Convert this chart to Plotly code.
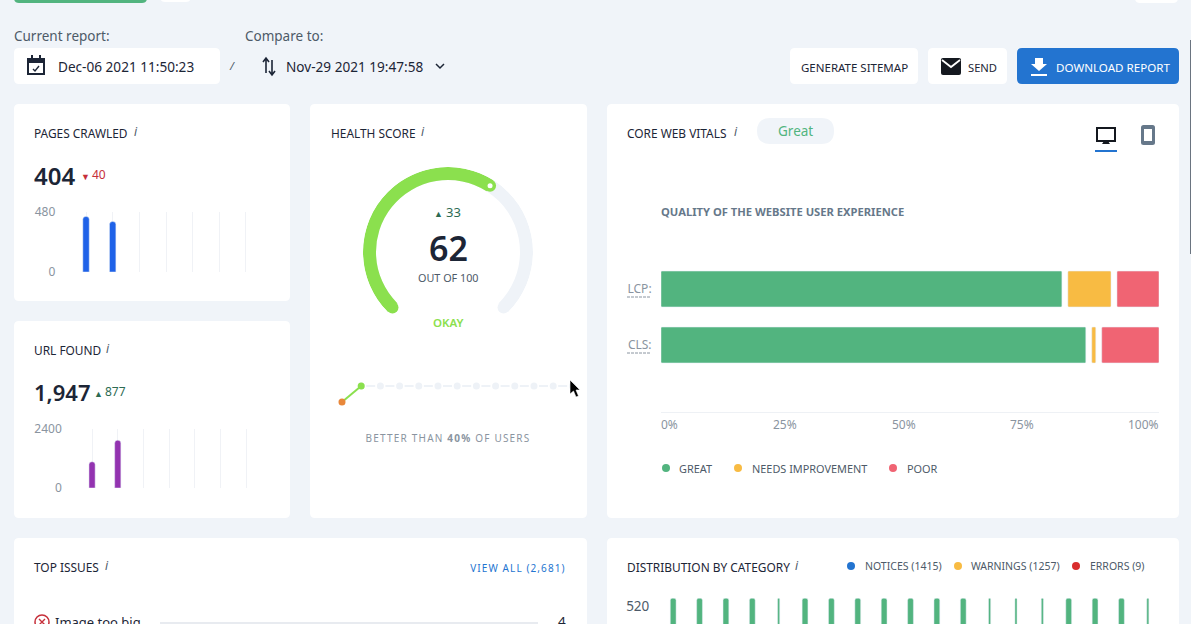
import plotly.graph_objects as go

FONT = "Noto Sans"
BG = "#f0f4f9"
INK = "#1c2536"
MUTED = "#4d5a68"
TICK = "#8a94a0"
GRID = "#f0f2f6"
GREEN = "#52b47f"
AMBER = "#f8bb43"
RED = "#f06473"
LIME = "#8be04e"
BLUE = "#2374d0"

W, H = 1191, 624

# values
report_slots = [1, 2, 3, 4, 5, 6, 7]
pages_crawled = [444, 404]
pages_ticks = [0, 480]
url_found = [1070, 1947]
url_ticks = [0, 2400]

health_score = 62
health_history = [29, 62]
health_future = [62, 62, 62, 62, 62, 62, 62, 62, 62, 62, 62, 62]

cwv_metrics = ["LCP", "CLS"]
cwv_labels = ["LCP:", "CLS:"]
cwv_great = [81.7, 86.5]
cwv_needs = [9.86, 2.0]
cwv_poor = [8.44, 11.5]
cwv_tick_text = ["0%", "25%", "50%", "75%", "100%"]

dist_slots = list(range(1, 20))
dist_values = [546] * 19
dist_thin = [5, 13, 14, 15, 19]
dist_ticks = [520]


def rr(x0, y0, x1, y1, r=5):
    return (f"M{x0+r},{y0} L{x1-r},{y0} Q{x1},{y0} {x1},{y0+r} L{x1},{y1-r} Q{x1},{y1} {x1-r},{y1} "
            f"L{x0+r},{y1} Q{x0},{y1} {x0},{y1-r} L{x0},{y0+r} Q{x0},{y0} {x0+r},{y0} Z")


def xdom(x0, x1):
    return [x0 / W, x1 / W]


def ydom(top, bottom):
    return [1 - bottom / H, 1 - top / H]


shapes = []


def box(x0, y0, x1, y1, color="white", r=5):
    shapes.append(dict(type="path", path=rr(x0, y0, x1, y1, r), fillcolor=color, line_width=0,
                       xref="x", yref="y", layer="below"))


def icon(path, fill="rgba(0,0,0,0)", color=INK, width=0):
    shapes.append(dict(type="path", path=path, fillcolor=fill, line=dict(color=color, width=width),
                       xref="x", yref="y", layer="above"))


def dot(cx, cy, r, color):
    shapes.append(dict(type="circle", x0=cx - r, x1=cx + r, y0=cy - r, y1=cy + r, fillcolor=color,
                       line_width=0, xref="x", yref="y", layer="above"))


annotations = []


def label(x, y, text, size=11, color=INK, anchor="left", weight=None):
    font = dict(family=FONT, size=size, color=color)
    if weight:
        font["weight"] = weight
    annotations.append(dict(x=x, y=y, xref="x", yref="y", text=text, showarrow=False, xanchor=anchor,
                            yanchor="middle", font=font, borderpad=0, borderwidth=0))


# cards and buttons
box(14, -6, 147, 3, GREEN)
box(160, -6, 191, 2)
box(1135, -6, 1178, 3)
box(14, 104, 290, 301)
box(14, 321, 290, 518)
box(310, 104, 587, 518)
box(607, 104, 1179, 518)
box(14, 538, 587, 640)
box(607, 538, 1179, 640)
box(14, 48, 220, 84)
box(790, 48, 918, 84)
box(928, 48, 1007, 84)
box(1017, 48, 1179, 84, BLUE)
box(757, 118, 834, 144, BG, 13)
shapes.append(dict(type="rect", x0=1190, x1=1191, y0=40, y1=254, fillcolor="#6a7480", line_width=0,
                   xref="x", yref="y", layer="above"))

# header text
label(14, 36, "Current report:", 13.5, MUTED)
label(245, 36, "Compare to:", 13.5, MUTED)
label(58, 66, "Dec-06 2021 11:50:23", 13.6, INK)
label(286, 66, "Nov-29 2021 19:47:58", 13.6, INK)
label(232, 65, "<i>/</i>", 11, MUTED, "center")
label(854, 67, "GENERATE SITEMAP", 11.5, INK, "center")
label(982.5, 67, "SEND", 11.2, INK, "center")
label(1112.5, 67, "DOWNLOAD REPORT", 11.6, "white", "center")

# calendar, swap, chevron, envelope, download icons
icon(f"M28,59 L44,59 L44,74 L28,74 Z", color=INK, width=2)
icon("M27,58 L45,58 L45,63 L27,63 Z", fill=INK)
icon("M31,55 L33,55 L33,59 L31,59 Z M39,55 L41,55 L41,59 L39,59 Z", fill=INK)
icon("M33,69 L35,71 L39,66", color=INK, width=1.4)
icon("M266,73 L266,59 M263,62 L266,58 L269,62 M272,60 L272,74 M269,71 L272,75 L275,71", color=INK, width=1.6)
icon("M436,64 L440,68 L444,64", color=INK, width=1.5)
icon(rr(941, 58, 961, 75, 2), fill="#14181f")
icon("M942,60 L951,67 L960,60", color="white", width=1.8)
icon("M1035,58 L1043,58 L1043,64 L1047,64 L1039,71 L1031,64 L1035,64 Z", fill="white")
icon("M1031,75 L1047,75", color="white", width=2)
# monitor, phone
icon("M1097,128 L1115,128 L1115,141 L1097,141 Z", color="#14181f", width=2)
icon("M1102,144 L1110,144 L1108,141 L1104,141 Z", fill="#14181f")
icon("M1095,151 L1117,151", color=BLUE, width=2)
icon(rr(1141, 125, 1155, 145, 2.5), fill="#66788a")
icon("M1144,129 L1152,129 L1152,141 L1144,141 Z", fill="white")
# mouse pointer
icon("M570,380 L570,394 L573.5,391 L576,397 L578.5,396 L576,390 L580,390 Z", fill="black", color="white", width=0.6)

# card titles
for x, y, title, ix in [
    (34, 133, "PAGES CRAWLED", 136),
    (34, 350, "URL FOUND", 108),
    (331, 133, "HEALTH SCORE", 423),
    (627, 133, "CORE WEB VITALS", 736),
    (34, 567, "TOP ISSUES", 107),
    (627, 567, "DISTRIBUTION BY CATEGORY", 797),
]:
    label(x, y, title, 11.9, INK)
    label(ix, y - 2, "<i>i</i>", 12, MUTED, "center")

# headline numbers
label(34, 175, "404", 24, INK, weight=600)
label(81, 176, "▼", 9, "#c62f3a")
label(92, 174, "40", 12, "#c62f3a")
label(34, 392, "1,947", 22, INK, weight=600)
label(94, 393, "▲", 9, "#2d6b53")
label(105, 391, "877", 12, "#2d6b53")

# gauge text
label(438, 213, "▲", 9, "#2d6b53", "center")
label(453, 212, "33", 13, "#2d6b53", "center")
label(448, 248, "62", 34, INK, "center", weight=600)
label(448, 277, "OUT OF 100", 10.8, MUTED, "center")
label(448, 322, "OKAY", 11.5, LIME, "center", weight=600)
label(448, 438, "BETTER THAN <b>40%</b> OF USERS", 10, TICK, "center")

# core web vitals text
label(795, 131, "Great", 13.5, GREEN, "center")
label(661, 211.5, "<b>QUALITY OF THE WEBSITE USER EXPERIENCE</b>", 11.2, "#66788a")
label(661, 424, cwv_tick_text[0], 12, TICK)
label(785, 424, cwv_tick_text[1], 12, TICK, "center")
label(904, 424, cwv_tick_text[2], 12, TICK, "center")
label(1022, 424, cwv_tick_text[3], 12, TICK, "center")
label(1159, 424, cwv_tick_text[4], 12, TICK, "right")
dot(666, 468, 4, GREEN)
label(679, 468, "GREAT", 10.9, MUTED)
dot(738, 468, 4, AMBER)
label(752, 468, "NEEDS IMPROVEMENT", 10.9, MUTED)
dot(893, 468, 4, RED)
label(907, 468, "POOR", 10.9, MUTED)
for yy in (297, 353):
    icon(f"M627,{yy} L650,{yy}", color=TICK, width=1)
    shapes[-1]["line"]["dash"] = "3px,1px"

# distribution legend
dot(851, 566, 4, BLUE)
label(865, 566, "NOTICES (1415)", 10.5, MUTED)
dot(958, 566, 4, AMBER)
label(971, 566, "WARNINGS (1257)", 10.5, MUTED)
dot(1076, 566, 4, "#d92d2d")
label(1090, 566, "ERRORS (9)", 10.5, MUTED)

# top issues
label(518, 568, "VIEW ALL (2,681)", 10, BLUE, "center")
shapes.append(dict(type="circle", x0=35, x1=49, y0=615, y1=629, fillcolor="white",
                   line=dict(color="#c62f3a", width=1.5), xref="x", yref="y", layer="above"))
icon("M39,619 L45,625 M45,619 L39,625", color="#c62f3a", width=1.4)
label(55, 622, "Image too big", 13, INK)
label(562, 622, "4", 13.5, INK, "center")
icon("M160,623 L538,623", color="#e8ebf0", width=2)

fig = go.Figure()

# small bar charts
fig.add_trace(go.Bar(x=report_slots[:2], y=pages_crawled, width=0.24, marker=dict(color="#1f62e8", cornerradius=3),
                     xaxis="x2", yaxis="y2", hoverinfo="skip"))
fig.add_trace(go.Bar(x=report_slots[:2], y=url_found, width=0.24, marker=dict(color="#9333b0", cornerradius=3),
                     xaxis="x3", yaxis="y3", hoverinfo="skip"))

# health score history
fig.add_trace(go.Scatter(x=list(range(2, 14)), y=health_future, mode="lines+markers",
                         line=dict(color="#eef2f7", width=2, dash="0px,5px,9px,5.2px"),
                         marker=dict(color="#eef2f7", size=7), xaxis="x4", yaxis="y4", hoverinfo="skip"))
fig.add_trace(go.Scatter(x=[1, 2], y=health_history, mode="lines+markers", line=dict(color=LIME, width=2),
                         marker=dict(color=["#e8873a", LIME], size=7), xaxis="x4", yaxis="y4", hoverinfo="skip"))

# core web vitals bars, each one stops a little short of the next
GAP = 1.2
cum = [0, 0]
for i, (vals, color) in enumerate([(cwv_great, GREEN), (cwv_needs, AMBER), (cwv_poor, RED)]):
    widths = [v - GAP if i < 2 else v for v in vals]
    fig.add_trace(go.Bar(y=cwv_metrics, x=widths, base=cum, orientation="h", width=0.64,
                         marker=dict(color=color, cornerradius=1), xaxis="x5", yaxis="y5", hoverinfo="skip"))
    cum = [c + v for c, v in zip(cum, vals)]

# distribution
fig.add_trace(go.Bar(x=dist_slots, y=dist_values,
                     width=[0.08 if s in dist_thin else 0.22 for s in dist_slots],
                     marker=dict(color=GREEN, cornerradius=2), xaxis="x6", yaxis="y6", hoverinfo="skip"))

# gauge
START = 225
SWEEP = 270
score_span = health_score / 100 * SWEEP
R_IN, R_OUT = 72 / 85, 1.0
R_MID = (R_IN + R_OUT) / 2
fig.add_trace(go.Barpolar(r=[R_OUT - R_IN], base=[R_IN], theta=[START + SWEEP / 2], width=[SWEEP],
                          marker=dict(color="#eff3f8", line_width=0), subplot="polar", hoverinfo="skip"))
fig.add_trace(go.Barpolar(r=[R_OUT - R_IN], base=[R_IN], theta=[START + score_span / 2], width=[score_span],
                          marker=dict(color=LIME, line_width=0), subplot="polar", hoverinfo="skip"))
fig.add_trace(go.Scatterpolar(r=[R_MID], theta=[START + SWEEP], mode="markers", marker=dict(color="#eff3f8", size=12),
                              subplot="polar", hoverinfo="skip"))
fig.add_trace(go.Scatterpolar(r=[R_MID, R_MID], theta=[START, START + score_span], mode="markers",
                              marker=dict(color=LIME, size=12), subplot="polar", hoverinfo="skip"))
fig.add_trace(go.Scatterpolar(r=[R_MID], theta=[START + score_span], mode="markers",
                              marker=dict(color="white", size=5), subplot="polar", hoverinfo="skip"))

hidden = dict(visible=False)
tick_font = dict(family=FONT, size=12, color=TICK)

fig.update_layout(
    width=W, height=H, margin=dict(l=0, r=0, t=0, b=0, pad=0, autoexpand=False), autosize=False,
    paper_bgcolor=BG, plot_bgcolor="rgba(0,0,0,0)", showlegend=False, barmode="overlay",
    font=dict(family=FONT),
    shapes=shapes, annotations=annotations,
    xaxis=dict(range=[0, W], domain=[0, 1], **hidden),
    yaxis=dict(range=[H, 0], domain=[0, 1], **hidden),
    xaxis2=dict(domain=xdom(72.7, 259.3), range=[0.5, 7.5], anchor="y2", tickvals=report_slots, showticklabels=False,
                showgrid=True, gridcolor=GRID, gridwidth=1, zeroline=False, ticks=""),
    yaxis2=dict(domain=ydom(212, 272), range=[0, 480], anchor="x2", tickvals=pages_ticks, showgrid=False,
                zeroline=False, ticks="outside", ticklen=14, tickcolor="rgba(0,0,0,0)", tickfont=tick_font),
    xaxis3=dict(domain=xdom(79.2, 259.2), range=[0.5, 7.5], anchor="y3", tickvals=report_slots, showticklabels=False,
                showgrid=True, gridcolor=GRID, gridwidth=1, zeroline=False, ticks=""),
    yaxis3=dict(domain=ydom(429, 488), range=[0, 2400], anchor="x3", tickvals=url_ticks, showgrid=False,
                zeroline=False, ticks="outside", ticklen=14, tickcolor="rgba(0,0,0,0)", tickfont=tick_font),
    xaxis4=dict(domain=xdom(322.8, 591.6), range=[0, 14], anchor="y4", **hidden),
    yaxis4=dict(domain=ydom(376, 412), range=[8.4, 82.6], anchor="x4", **hidden),
    xaxis5=dict(domain=xdom(661, 1159), range=[0, 100], anchor="y5", showticklabels=False, showgrid=False,
                zeroline=False, showline=True, linecolor="#eef1f5", linewidth=1, ticks=""),
    yaxis5=dict(domain=ydom(261, 412), range=[2.196, -0.5], anchor="x5", type="category",
                categoryarray=cwv_metrics, tickmode="array", tickvals=cwv_metrics, ticktext=cwv_labels,
                showgrid=False, zeroline=False, ticks="outside", ticklen=6, tickcolor="rgba(0,0,0,0)",
                tickfont=dict(family=FONT, size=12, color=TICK)),
    xaxis6=dict(domain=xdom(660, 1161), range=[0.5, 19.5], anchor="y6", showticklabels=False, showgrid=False,
                zeroline=False, ticks=""),
    yaxis6=dict(domain=ydom(598, 624), range=[460, 547], anchor="x6", tickvals=dist_ticks, showgrid=False,
                zeroline=False, ticks="outside", ticklen=7, tickcolor="rgba(0,0,0,0)",
                tickfont=dict(family=FONT, size=13.5, color=MUTED)),
    polar=dict(domain=dict(x=xdom(363, 533), y=ydom(167, 337)), bgcolor="rgba(0,0,0,0)", barmode="overlay",
               radialaxis=dict(range=[0, 1], visible=False),
               angularaxis=dict(visible=False, rotation=90, direction="clockwise")),
)

# plotly has no letter spacing option, two captions in the reference are spaced out
post = """
document.body.style.margin='0';document.body.style.overflow='hidden';
document.querySelectorAll('.annotation-text').forEach(function(t){
  if(t.textContent.indexOf('BETTER')===0){t.style.letterSpacing='1.2px';}
  if(t.textContent.indexOf('VIEW ALL')===0){t.style.letterSpacing='1.1px';}
});
"""
fig.write_html("out.html", config=dict(displayModeBar=False), post_script=post)
